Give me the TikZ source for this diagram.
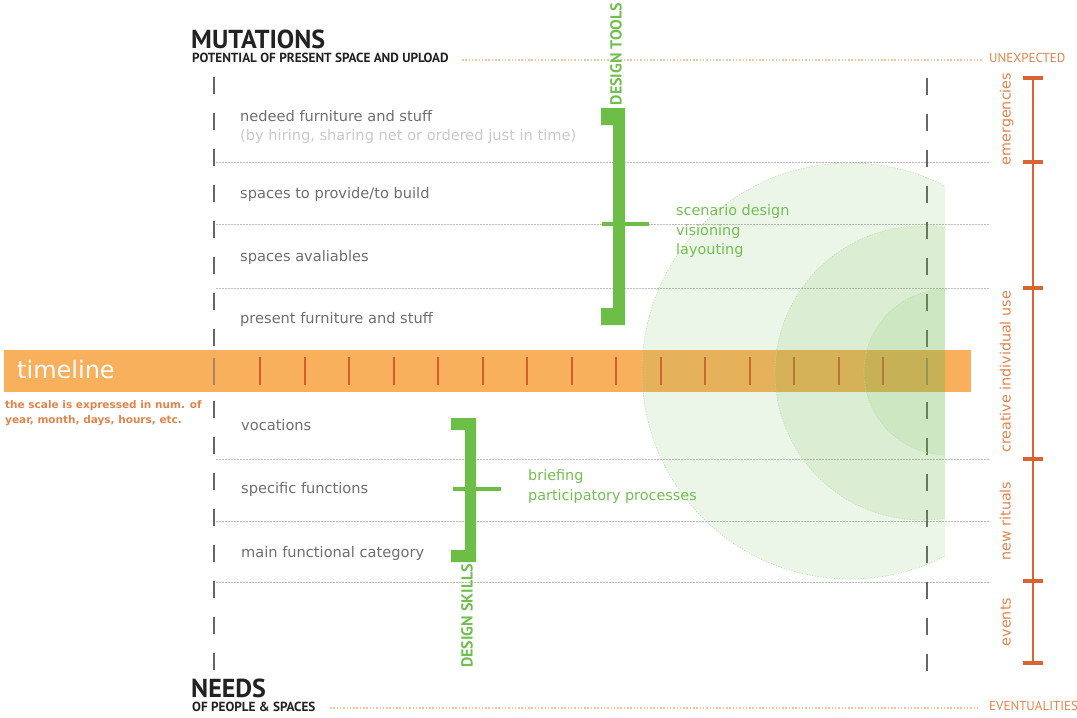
\documentclass[tikz,border=0pt]{standalone}
\usepackage{fontspec}
\setmainfont{DejaVu Sans}
\newfontfamily\capsfont{PT Sans}
\definecolor{txtgray}{HTML}{6E6E6E}
\definecolor{lightgraytxt}{HTML}{C9C9C9}
\definecolor{dashgray}{HTML}{666666}
\definecolor{dotgray}{HTML}{BDBDBD}
\definecolor{bargold}{HTML}{F8B05C}
\definecolor{tickorange}{HTML}{D55F2A}
\definecolor{axisorange}{HTML}{DA6530}
\definecolor{labelorange}{HTML}{E3834A}
\definecolor{dotorange}{HTML}{F7C39A}
\definecolor{bracketgreen}{HTML}{6DBE46}
\definecolor{textgreen}{HTML}{72BF50}
\definecolor{circgreen}{RGB}{107,184,77}
\definecolor{titleblack}{HTML}{222222}
\begin{document}
\begin{tikzpicture}[x=1pt,y=-1pt,
  body/.style={font=\fontsize{14.6}{17}\selectfont, text=txtgray, anchor=mid west, inner sep=0pt},
  greentxt/.style={font=\fontsize{14.4}{17}\selectfont, text=textgreen, anchor=mid west, inner sep=0pt},
  sidelabel/.style={font=\fontsize{14.3}{17}\selectfont, text=labelorange, rotate=90, anchor=mid, inner sep=0pt},
  bigtitle/.style={font=\capsfont\bfseries\fontsize{26}{30}\selectfont, text=titleblack, anchor=base west, inner sep=0pt, text depth=0pt},
  subtitle/.style={font=\capsfont\bfseries\fontsize{13.2}{15}\selectfont, text=titleblack, anchor=mid west, inner sep=0pt, text height=1.3ex},
  edgelabel/.style={font=\capsfont\fontsize{13}{15}\selectfont, text=labelorange, anchor=mid west, inner sep=0pt},
  tooltxt/.style={font=\capsfont\bfseries\fontsize{16}{18}\selectfont, text=textgreen, rotate=90, anchor=mid, inner sep=0pt},
  gridline/.style={dotgray, line width=0.8pt, dash pattern=on 1.5pt off 1.5pt},
  orangedots/.style={dotorange, line width=1.4pt, dash pattern=on 1.5pt off 1.8pt},
  vdash/.style={dashgray, line width=2.6pt, dash pattern=on 17pt off 19pt},
  tick/.style={tickorange, line width=2pt},
  circfill/.style={fill=circgreen, fill opacity=0.13},
  circedge/.style={draw=circgreen!50, line width=0.7pt, dash pattern=on 1.2pt off 1.5pt, draw opacity=0.8},
  bracket/.style={fill=bracketgreen},
  axis/.style={axisorange, line width=2pt},
  axiscap/.style={axisorange, line width=4pt}
]
\useasboundingbox (0,0) rectangle (1077,718);

% grid lines
\foreach \yy in {162,224,288,459,521,582}
  \draw[gridline] (216,\yy) -- (990,\yy);

% orange dotted guides
\coordinate (topdotA) at (462,60);
\coordinate (topdotB) at (982,60);
\draw[orangedots] (topdotA) -- (topdotB);
\coordinate (botdotA) at (330,708);
\coordinate (botdotB) at (980,708);
\draw[orangedots] (botdotA) -- (botdotB);

% dashed verticals
\coordinate (lvA) at (214,77);
\coordinate (lvB) at (214,671);
\coordinate (rvA) at (927,78);
\coordinate (rvB) at (927,672);
\draw[vdash] (lvA) -- (lvB);
\draw[vdash] (rvA) -- (rvB);

% timeline bar
\fill[bargold] (4,350) rectangle (971,392);
\node[font=\fontsize{24}{28}\selectfont, text=white, anchor=mid west, inner sep=0pt] (tl) at (17,376) {timeline};
\draw[dashgray, line width=2.2pt, opacity=0.55] (214,358) -- (214,385);
\draw[dashgray, line width=2.2pt, opacity=0.55] (927,358) -- (927,385);
\foreach \k in {0,...,14}
  \draw[tick] ({260+44.5*\k},357) -- ({260+44.5*\k},385);

% semicircles
\begin{scope}
  \clip (600,100) rectangle (945,600);
  \fill[circfill] (850,371) circle[radius=208pt];
  \fill[circfill] (922,373) circle[radius=147pt];
  \fill[circfill] (947,372) circle[radius=83pt];
  \draw[circedge] (850,371) circle[radius=208pt];
  \draw[circedge] (922,373) circle[radius=147pt];
  \draw[circedge] (947,372) circle[radius=83pt];
\end{scope}

% titles
\node[bigtitle] (mut) at (191,48) {MUTATIONS};
\node[subtitle] (mutsub) at (192,60) {POTENTIAL OF PRESENT SPACE AND UPLOAD};
\node[bigtitle] (needs) at (191,697) {NEEDS};
\node[subtitle] (needsub) at (192,708.5) {OF PEOPLE \& SPACES};
\node[edgelabel] (unexp) at (989,60) {UNEXPECTED};
\node[edgelabel] (event) at (989,708) {EVENTUALITIES};

% scale note
\node[font=\bfseries\fontsize{10.5}{15.5}\selectfont, text=labelorange, anchor=north west, inner sep=0pt, align=left] (scale) at (5,400)
  {the scale is expressed in num. of\\year, month, days, hours, etc.};

% upper texts
\node[body] (t1) at (240,119) {nedeed furniture and stuff};
\node[body, text=lightgraytxt] (t1b) at (240,137.5) {(by hiring, sharing net or ordered just in time)};
\node[body] (t2) at (240,196) {spaces to provide/to build};
\node[body] (t3) at (240,259) {spaces avaliables};
\node[body] (t4) at (240,321) {present furniture and stuff};

% lower texts
\node[body] (b1) at (241,428) {vocations};
\node[body] (b2) at (241,491) {specific functions};
\node[body] (b3) at (241,555) {main functional category};

% upper bracket
\fill[bracket] (601,108) -- (625,108) -- (625,325) -- (601,325) -- (601,308) -- (613,308) -- (613,125) -- (601,125) -- cycle;
\draw[bracketgreen, line width=4pt] (602,223.5) -- (649,223.5);
\node[tooltxt] (dtools) at (619,54) {DESIGN TOOLS};
\node[greentxt] (g1) at (676,213) {scenario design};
\node[greentxt] (g2) at (676,232.5) {visioning};
\node[greentxt] (g3) at (676,252) {layouting};

% lower bracket
\fill[bracket] (451,418) -- (476,418) -- (476,562) -- (451,562) -- (451,550) -- (465,550) -- (465,430) -- (451,430) -- cycle;
\draw[bracketgreen, line width=4pt] (453,488.5) -- (501,488.5);
\node[tooltxt] (dskills) at (470,616) {DESIGN SKILLS};
\node[greentxt] (g4) at (528,478) {briefing};
\node[greentxt] (g5) at (528,497.5) {participatory processes};

% right axis
\coordinate (axA) at (1033,78);
\coordinate (axB) at (1033,663);
\draw[axis] (axA) -- (axB);
\foreach \yy in {78,162,288,459,581,663}
  \draw[axiscap] (1023,\yy) -- (1043,\yy);
\node[sidelabel] (s1) at (1008,119) {emergencies};
\node[sidelabel] (s2) at (1008,372) {creative individual use};
\node[sidelabel] (s3) at (1008,521) {new rituals};
\node[sidelabel] (s4) at (1008,622) {events};
\end{tikzpicture}
\end{document}
